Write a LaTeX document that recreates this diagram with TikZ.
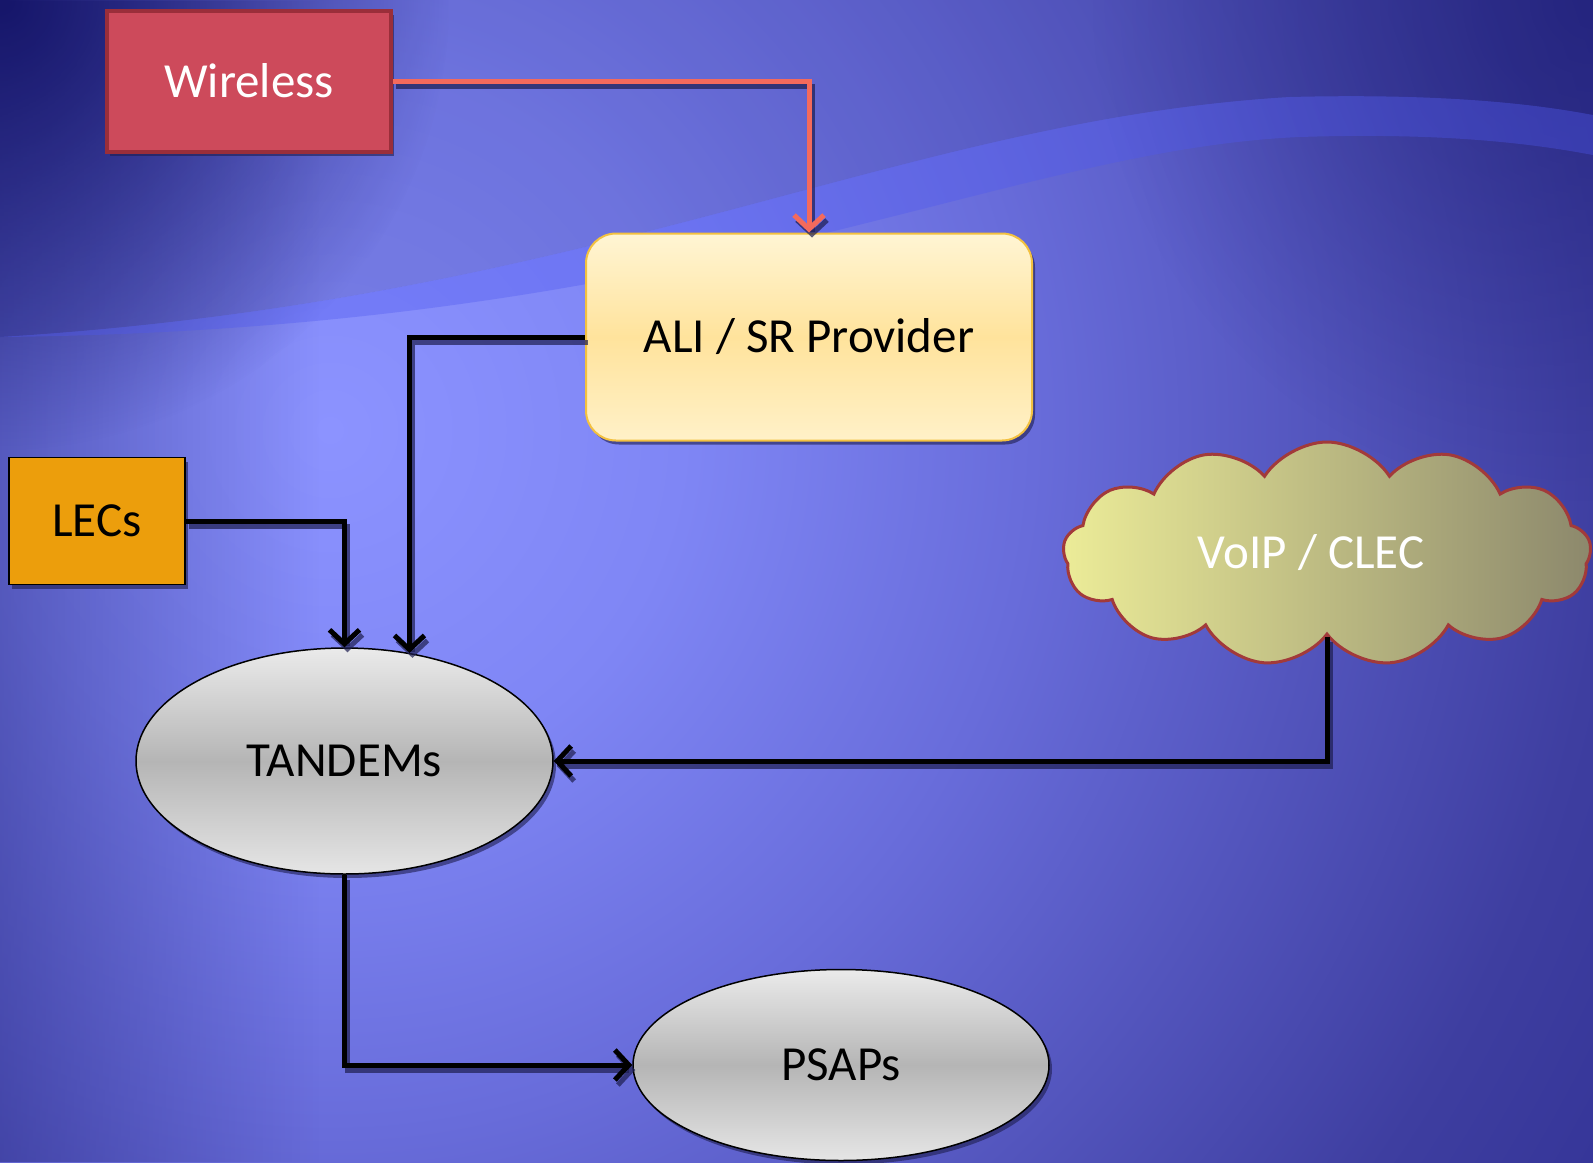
\documentclass[tikz,border=0pt]{standalone}
\usepackage{fontspec}
\setmainfont{Carlito}
\usetikzlibrary{arrows.meta,shapes.geometric,shapes.symbols,shadows,fadings,calc}
\definecolor{bgA}{HTML}{8C93FF}
\definecolor{bgB}{HTML}{7F86F5}
\definecolor{bgC}{HTML}{686CDA}
\definecolor{bgD}{HTML}{3E3EA0}
\definecolor{bgE}{HTML}{25258A}
\definecolor{bgF}{HTML}{1C1C74}
\definecolor{bgN}{HTML}{16166A}
\definecolor{wirefill}{HTML}{CD4A5B}
\definecolor{wireedge}{HTML}{9A2E3A}
\definecolor{redline}{HTML}{F46A5C}
\definecolor{aliedge}{HTML}{F3C140}
\definecolor{alitop}{HTML}{FFF5D4}
\definecolor{alimid}{HTML}{FFE39C}
\definecolor{alibot}{HTML}{FFF1C8}
\definecolor{lecfill}{HTML}{EC9E0C}
\definecolor{cloudL}{HTML}{ECEC98}
\definecolor{cloudR}{HTML}{8C886C}
\definecolor{cloudedge}{HTML}{A23A3A}
\definecolor{shadowc}{HTML}{1E1E50}
\definecolor{bandc}{HTML}{4E58F0}
\pgfdeclareradialshading{bgshade}{\pgfpoint{0bp}{0bp}}{color(0bp)=(bgA); color(5.5bp)=(bgB); color(11bp)=(bgC); color(20bp)=(bgD); color(28.7bp)=(bgE); color(36bp)=(bgF); color(50bp)=(bgF)}
\tikzfading[name=cornerfade, inner color=transparent!0, outer color=transparent!100]
\tikzset{
  lbl/.style={font=\fontsize{49}{59}\selectfont},
  shad/.style={drop shadow={shadow xshift=3pt, shadow yshift=-4pt, fill=shadowc, opacity=0.6}},
  conn/.style={line width=5pt, -{Straight Barb[length=14pt,width=30pt]}},
  connshadow/.style={conn, draw=shadowc, opacity=0.7, transform canvas={shift={(3pt,-5pt)}}},
  ellnode/.style={ellipse, draw=black, line width=1.5pt, top color=gray!16, bottom color=gray!20, middle color=gray!58, shad, lbl, text=black, inner sep=0pt}
}
\begin{document}
\begin{tikzpicture}[x=1pt,y=-1pt]
\useasboundingbox (0,0) rectangle (1593,1162);
% background
\begin{scope}
\clip (0,0) rectangle (1593,1162);
\fill[bgF] (0,0) rectangle (1593,1162);
\shade[shading=bgshade] (330,430) circle[radius=1600pt];
\fill[bgN, path fading=east, opacity=0.4] (0,0) rectangle (320,1162);
\fill[bgN, path fading=cornerfade] (0,0) circle[radius=450pt];
\fill[bgN, path fading=cornerfade, opacity=0.5] (1593,0) circle[radius=500pt];
% swoosh
\fill[bgN, opacity=0.16] (0,0) -- (0,337) .. controls (600,300) and (900,120) .. (1290,97) .. controls (1450,93) and (1540,105) .. (1593,115) -- (1593,0) -- cycle;
\fill[bandc, opacity=0.35] (0,337) .. controls (600,300) and (900,120) .. (1290,97) .. controls (1450,93) and (1540,105) .. (1593,115) -- (1593,155) .. controls (1540,145) and (1450,132) .. (1300,137) .. controls (1000,150) and (700,330) .. (0,337) -- cycle;
\end{scope}
% nodes
\node[rectangle, draw=wireedge, line width=4pt, fill=wirefill, minimum width=284pt, minimum height=141pt, lbl, text=white, shad] (wireless) at (249,81) {Wireless};
\node[rectangle, rounded corners=30pt, draw=aliedge, line width=2pt, top color=alitop, bottom color=alibot, middle color=alimid, minimum width=446pt, minimum height=207pt, lbl, text=black, shad] (ali) at (809,337) {ALI / SR Provider};
\node[rectangle, draw=black, line width=1.5pt, fill=lecfill, minimum width=176pt, minimum height=127pt, lbl, text=black, shad] (lecs) at (97,521) {LECs};
\node[ellnode, minimum width=417pt, minimum height=226pt] (tandem) at (344.5,761) {TANDEMs};
\node[ellnode, minimum width=416pt, minimum height=191pt] (psaps) at (841,1065) {PSAPs};
\node[cloud, cloud puffs=13, cloud puff arc=115, aspect=2.4, draw=cloudedge, line width=3pt, left color=cloudL, right color=cloudR, minimum width=528pt, minimum height=224pt, inner sep=0pt, lbl, text=white] (cloud) at (1327,554) {\raisebox{6pt}{VoIP / CLEC}\hspace*{32pt}};
% connectors: shadows
\draw[connshadow] (wireless.east) -| (ali.north);
\draw[connshadow] (ali.west) -| (tandem.59.4);
\draw[connshadow] (lecs.east) -| (tandem.north);
\draw[connshadow] (cloud.south) |- (tandem.east);
\draw[connshadow] (tandem.south) |- (psaps.west);
% connectors
\draw[conn, draw=redline] (wireless.east) -| (ali.north);
\draw[conn, draw=black] (ali.west) -| (tandem.59.4);
\draw[conn, draw=black] (lecs.east) -| (tandem.north);
\draw[conn, draw=black] (cloud.south) |- (tandem.east);
\draw[conn, draw=black] (tandem.south) |- (psaps.west);
\end{tikzpicture}
\end{document}
